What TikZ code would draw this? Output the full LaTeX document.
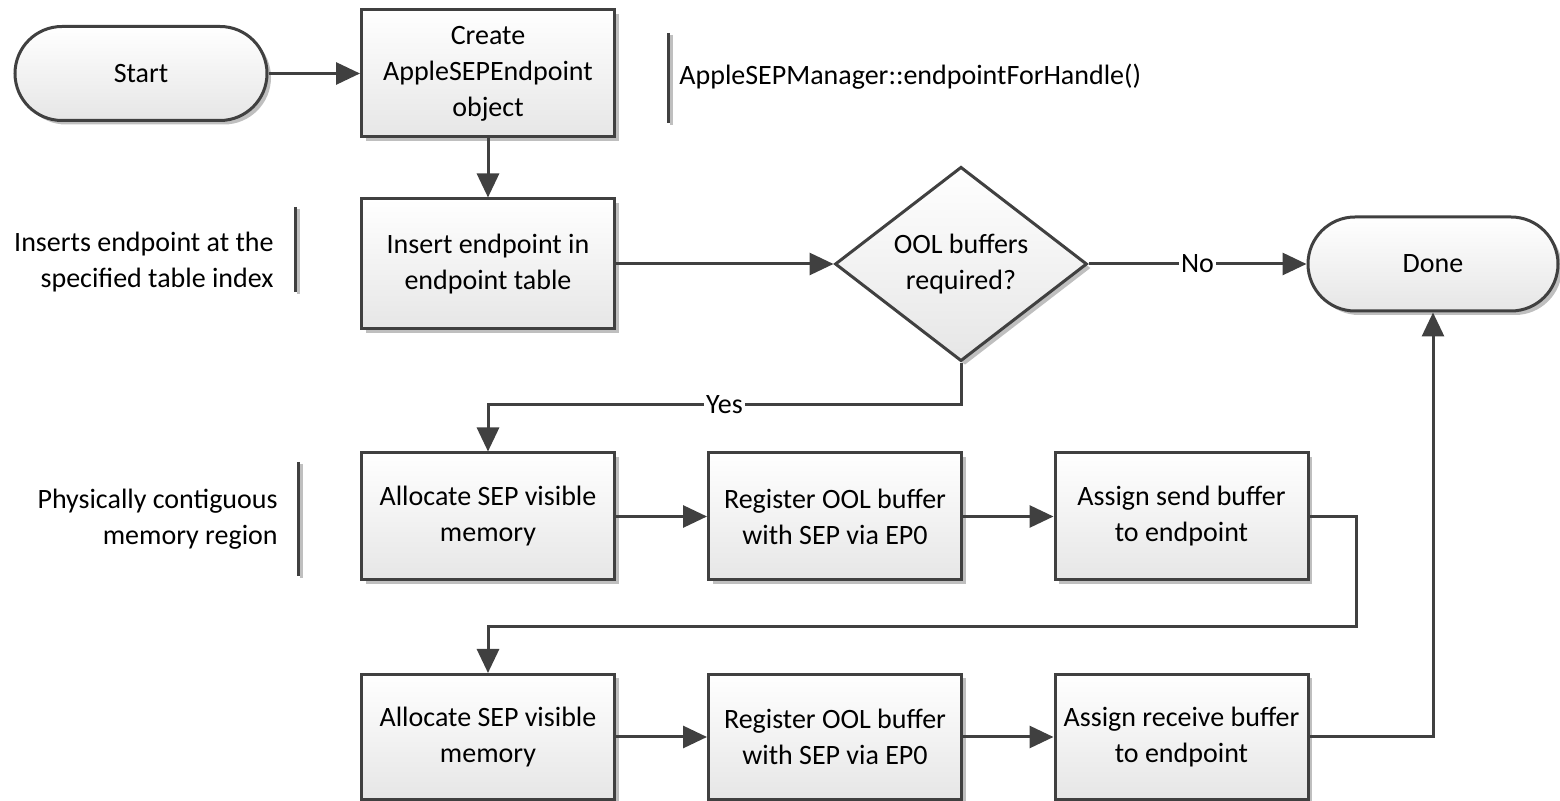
\documentclass[tikz,border=0pt]{standalone}
\usepackage{fontspec}
\setmainfont{Carlito}
\usetikzlibrary{arrows.meta,shapes.geometric,shadows}
\definecolor{linegray}{HTML}{404040}
\definecolor{boxbot}{HTML}{E6E6E6}
\begin{document}
\begin{tikzpicture}[x=0.5pt,y=-0.5pt,
  font=\fontsize{14}{18}\selectfont,
  line/.style={draw=linegray, line width=1.5pt},
  arr/.style={line, -{Triangle[length=12pt,width=11pt]}},
  boxbase/.style={draw=linegray, line width=1.5pt, top color=white, bottom color=boxbot,
    drop shadow={shadow xshift=2pt, shadow yshift=-2pt, fill=black, opacity=0.25},
    align=center, inner sep=2pt},
  procbox/.style={boxbase, rectangle, minimum width=126.5pt, minimum height=63.5pt},
  term/.style={boxbase, rectangle, rounded corners=23.5pt, minimum width=126pt, minimum height=47pt},
  decision/.style={boxbase, diamond, minimum width=126pt, minimum height=94.5pt, inner sep=0pt},
  note/.style={inner sep=0pt},
  lbl/.style={fill=white, inner sep=1pt},
  bracket/.style={draw=linegray, line width=1.5pt},
  bracketshade/.style={draw=black!25, line width=1.5pt},
]
\useasboundingbox (0,0) rectangle (1560,801);

% nodes
\node[term] (start) at (141,73.5) {Start};
\node[procbox] (create) at (488,73.5) {Create\\AppleSEPEndpoint\\object};
\node[procbox, minimum height=65pt] (insert) at (488,264) {Insert endpoint in\\endpoint table};
\node[decision] (dec) at (961,264) {OOL buffers\\required?};
\node[term, minimum width=125pt] (done) at (1433,264) {Done};

\node[procbox] (a1) at (488,516.5) {Allocate SEP visible\\memory};
\node[procbox] (r1) at (835,516.5) {Register OOL buffer\\with SEP via EP0};
\node[procbox] (s1) at (1181.5,516.5) {Assign send buffer\\to endpoint};

\node[procbox, minimum height=62.5pt] (a2) at (488,737) {Allocate SEP visible\\memory};
\node[procbox, minimum height=62.5pt] (r2) at (835,737) {Register OOL buffer\\with SEP via EP0};
\node[procbox, minimum height=62.5pt] (s2) at (1181.5,737) {Assign receive buffer\\to endpoint};

% annotations
\draw[bracketshade] (671,35) -- (671,125);
\draw[bracket] (668,33) -- (668,123);
\node[note, anchor=west, align=left] (n1) at (679,77) {AppleSEPManager::endpointForHandle()};

\draw[bracketshade] (298,209) -- (298,294);
\draw[bracket] (295,207) -- (295,292);
\node[note, anchor=east, align=right] (n2) at (274,262) {Inserts endpoint at the\\specified table index};

\draw[bracketshade] (301,464) -- (301,578);
\draw[bracket] (298,462) -- (298,576);
\node[note, anchor=east, align=right] (n3) at (278,519) {Physically contiguous\\memory region};

% connectors
\coordinate (yesturn) at (961,405);
\coordinate (loopturn) at (1356,627);

\draw[arr] (start) -- (create);
\draw[arr] (create) -- (insert);
\draw[arr] (insert) -- (dec);
\draw[arr] (dec) -- node[lbl] {No} (done);
\draw[arr] (dec.south) -- (yesturn) -- node[lbl] {Yes} (yesturn -| a1) -- (a1.north);
\draw[arr] (a1) -- (r1);
\draw[arr] (r1) -- (s1);
\draw[arr] (s1.east) -| (loopturn) -- (loopturn -| a2) -- (a2.north);
\draw[arr] (a2) -- (r2);
\draw[arr] (r2) -- (s2);
\draw[arr] (s2.east) -| (done.south);
\end{tikzpicture}
\end{document}
